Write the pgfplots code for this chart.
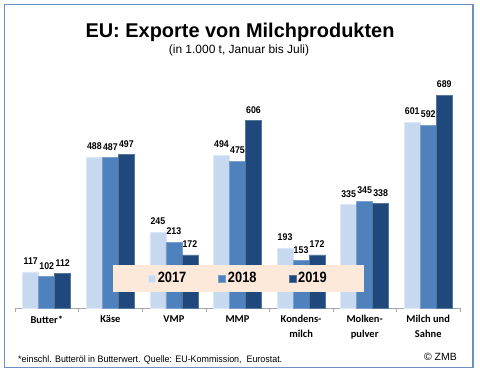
\documentclass[border=0pt]{standalone}
\usepackage{pgfplots}
\pgfplotsset{compat=1.18}
\usepackage{fontspec}
\setmainfont{Liberation Sans}
\newfontfamily\nar{Liberation Sans}[FakeStretch=0.9]
\newfontfamily\narr{Liberation Sans}[FakeStretch=0.86]
\newfontfamily\foot{Liberation Sans}[FakeStretch=0.94]
\newfontfamily\cat{Carlito}
\definecolor{c17}{HTML}{C6D9F0}
\definecolor{c18}{HTML}{4F81BD}
\definecolor{c19}{HTML}{1F497D}
\definecolor{legfill}{HTML}{FDE9D9}
\definecolor{frame}{HTML}{6C8EC4}
\begin{document}
\begin{tikzpicture}
\path (0bp,0bp) rectangle (480bp,-375bp);
\begin{axis}[name=ax, at={(15bp,-308bp)}, anchor=south west,
  scale only axis, width=445bp, height=247.2bp,
  xmin=-0.5, xmax=6.5, ymin=0, ymax=800,
  ybar=0pt, bar width=16bp,
  /pgf/number format/assume math mode=true,
  axis x line=bottom, axis y line=none,
  x axis line style={-, draw=gray!70},
  xtick={0,...,6},
  xticklabels={Butter*, Käse, VMP, MMP, {Kondens-\\milch}, {Molken-\\pulver}, {Milch und\\Sahne}},
  major tick length=0pt,
  minor xtick={-0.5,0.5,1.5,2.5,3.5,4.5,5.5,6.5},
  minor tick length=4bp, minor x tick style={draw=gray!70},
  tick align=outside,
  xticklabel style={font=\cat\bfseries\fontsize{10.5}{14.5}\selectfont, align=center, anchor=north, yshift=-4bp},
  clip=false,
  nodes near coords,
  nodes near coords style={font=\nar\bfseries\fontsize{9.8}{10}\selectfont, anchor=south, inner sep=0pt, yshift=7bp, text=black},
  legend columns=3,
  legend style={at={(0.5022,0.1193)}, anchor=center, draw=none, fill=none,
    font=\narr\bfseries\fontsize{15}{15}\selectfont,
    /tikz/every even column/.append style={column sep=30bp}},
  legend image code/.code={\fill[#1] (0bp,-3.5bp) rectangle (7bp,3.5bp);},
]
\addplot[fill=c17, draw=white!40!c17, line width=0.6bp] coordinates {(0,117) (1,488) (2,245) (3,494) (4,193) (5,335) (6,601)};
\addplot[fill=c18, draw=white!25!c18, line width=0.6bp] coordinates {(0,102) (1,487) (2,213) (3,475) (4,153) (5,345) (6,592)};
\addplot[fill=c19, draw=white!25!c19, line width=0.6bp] coordinates {(0,112) (1,497) (2,172) (3,606) (4,172) (5,338) (6,689)};
\fill[legfill] (rel axis cs:0.2202,0.0647) rectangle (rel axis cs:0.7843,0.174);
\legend{2017,2018,2019}
\end{axis}
\draw[frame, line width=1.3bp] (4.5bp,-4.5bp) rectangle (473bp,-367.5bp);
\node[anchor=base, inner sep=0pt, font=\bfseries\fontsize{20}{20}\selectfont] at (240bp,-37.5bp) {EU: Exporte von Milchprodukten};
\node[anchor=base, inner sep=0pt, font=\fontsize{12}{12}\selectfont] at (239bp,-53bp) {(in 1.000 t, Januar bis Juli)};
\node[anchor=base west, inner sep=0pt, font=\foot\fontsize{9.5}{10}\selectfont] at (18bp,-362bp) {*einschl. Butteröl in Butterwert. Quelle: EU-Kommission,\ \ Eurostat.};
\node[anchor=base east, inner sep=0pt, font=\fontsize{10.5}{11}\selectfont] at (457bp,-360.5bp) {© ZMB};
\end{tikzpicture}
\end{document}
